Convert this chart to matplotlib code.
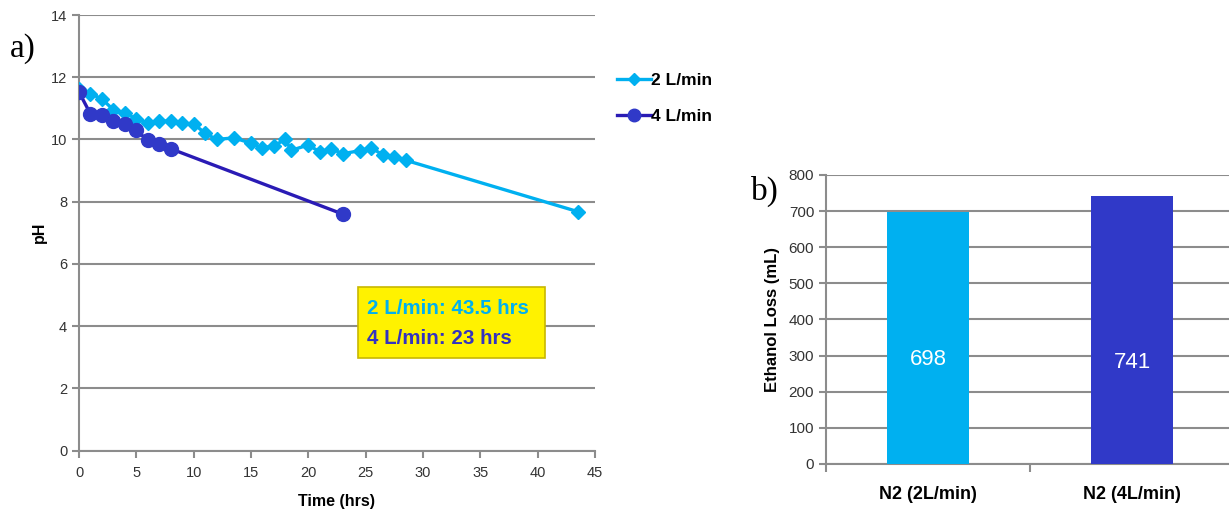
import matplotlib

matplotlib.use("Agg")
import matplotlib.pyplot as plt
from matplotlib.lines import Line2D

plt.rcParams["font.family"] = ["Liberation Sans", "DejaVu Sans"]

# pH vs time, 2 L/min
t_2 = [0, 1, 2, 3, 4, 5, 6, 7, 8, 9, 10, 11, 12, 13.5, 15, 16, 17, 18, 18.5,
       20, 21, 22, 23, 24.5, 25.5, 26.5, 27.5, 28.5, 43.5]
ph_2 = [11.63, 11.47, 11.3, 10.95, 10.85, 10.66, 10.52, 10.6, 10.58, 10.52, 10.5,
        10.2, 10.0, 10.05, 9.88, 9.72, 9.8, 10.0, 9.65, 9.82, 9.6, 9.7, 9.54,
        9.64, 9.73, 9.5, 9.45, 9.33, 7.68]
# pH vs time, 4 L/min
t_4 = [0, 1, 2, 3, 4, 5, 6, 7, 8, 23]
ph_4 = [11.52, 10.82, 10.79, 10.6, 10.5, 10.29, 9.97, 9.86, 9.7, 7.6]

# ethanol loss
bar_names = ["N2 (2L/min)", "N2 (4L/min)"]
bar_vals = [698, 741]
bar_label_y = [288, 280]

LIGHT = "#00B0F0"
DARK_M = "#3039C8"
DARK_L = "#2A1BB5"
GRID = "#8C8C8C"
TICK = "#333333"

fig = plt.figure(figsize=(12.29, 5.12), dpi=100)

# ---- a) pH ----
ax = fig.add_axes([0.0643, 0.1201, 0.4198, 0.8506])
ax.plot(t_2, ph_2, color=LIGHT, lw=2.4, marker="D", ms=7, mec=LIGHT, zorder=3)
ax.plot(t_4, ph_4, color=DARK_L, lw=2.4, marker="o", ms=10, mfc=DARK_M, mec=DARK_M, zorder=4)
ax.set_xlim(0, 45)
ax.set_ylim(0, 14)
ax.set_xticks(range(0, 46, 5))
ax.set_yticks(range(0, 15, 2))
ax.yaxis.grid(True, color=GRID, lw=1.5)
ax.set_axisbelow(True)
for s in ("top", "right"):
    ax.spines[s].set_visible(False)
for s in ("left", "bottom"):
    ax.spines[s].set_color(GRID)
    ax.spines[s].set_linewidth(1.5)
ax.tick_params(axis="both", colors=GRID, labelcolor=TICK, labelsize=10.5, width=1.5, length=5)
ax.tick_params(axis="x", pad=6)
ax.set_xlabel("Time (hrs)", fontsize=11.5, fontweight="bold", labelpad=10)
ax.set_ylabel("pH", fontsize=11.5, fontweight="bold", labelpad=3)

box = plt.Rectangle((0.5407, 0.212), 0.3624, 0.163, transform=ax.transAxes,
                    facecolor="#FFF200", edgecolor="#C8B800", lw=1.2, zorder=5)
ax.add_patch(box)
ax.text(0.558, 0.327, "2 L/min: 43.5 hrs", transform=ax.transAxes, color=LIGHT,
        fontsize=14.8, fontweight="bold", va="center", ha="left", zorder=6)
ax.text(0.558, 0.258, "4 L/min: 23 hrs", transform=ax.transAxes, color="#3333C0",
        fontsize=14.8, fontweight="bold", va="center", ha="left", zorder=6)

handles = [
    Line2D([], [], color=LIGHT, lw=2.4, marker="D", ms=6, mec=LIGHT),
    Line2D([], [], color=DARK_L, lw=2.4, marker="o", ms=9, mfc=DARK_M, mec=DARK_M),
]
fig.legend(handles, ["2 L/min", "4 L/min"], loc="center left",
           bbox_to_anchor=(0.489, 0.808), frameon=False, handlelength=2.0,
           handletextpad=0.0, labelspacing=1.2,
           prop={"weight": "bold", "size": 12.5})

fig.text(0.008, 0.89, "a)", fontsize=24, family=["Liberation Serif", "DejaVu Serif"])

# ---- b) ethanol loss ----
bx = fig.add_axes([0.6721, 0.0938, 0.3279, 0.5645])
xs = list(range(len(bar_vals)))
bx.bar(xs, bar_vals, width=0.4, color=[LIGHT, DARK_M], zorder=3)
for x, v, ly in zip(xs, bar_vals, bar_label_y):
    bx.text(x, ly, str(v), color="white", ha="center", va="center", fontsize=16, zorder=4)
bx.set_xlim(-0.5, 1.475)
bx.set_ylim(0, 800)
bx.set_yticks(range(0, 801, 100))
bx.set_xticks(xs)
bx.set_xticklabels(bar_names, fontweight="bold", fontsize=13)
bx.set_xticks([-0.5, 0.5], minor=True)
bx.tick_params(axis="x", which="major", length=0, pad=16, labelcolor="black")
bx.tick_params(axis="x", which="minor", length=6, width=1.5, color=GRID)
bx.tick_params(axis="y", colors=GRID, labelcolor=TICK, labelsize=11, width=1.5, length=5)
bx.yaxis.grid(True, color=GRID, lw=1.5)
bx.set_axisbelow(True)
for s in ("top", "right"):
    bx.spines[s].set_visible(False)
for s in ("left", "bottom"):
    bx.spines[s].set_color(GRID)
    bx.spines[s].set_linewidth(1.5)
bx.set_ylabel("Ethanol Loss (mL)", fontsize=12, fontweight="bold", labelpad=6)

fig.text(0.611, 0.61, "b)", fontsize=24, family=["Liberation Serif", "DejaVu Serif"])

fig.savefig("out.png", dpi=100)
